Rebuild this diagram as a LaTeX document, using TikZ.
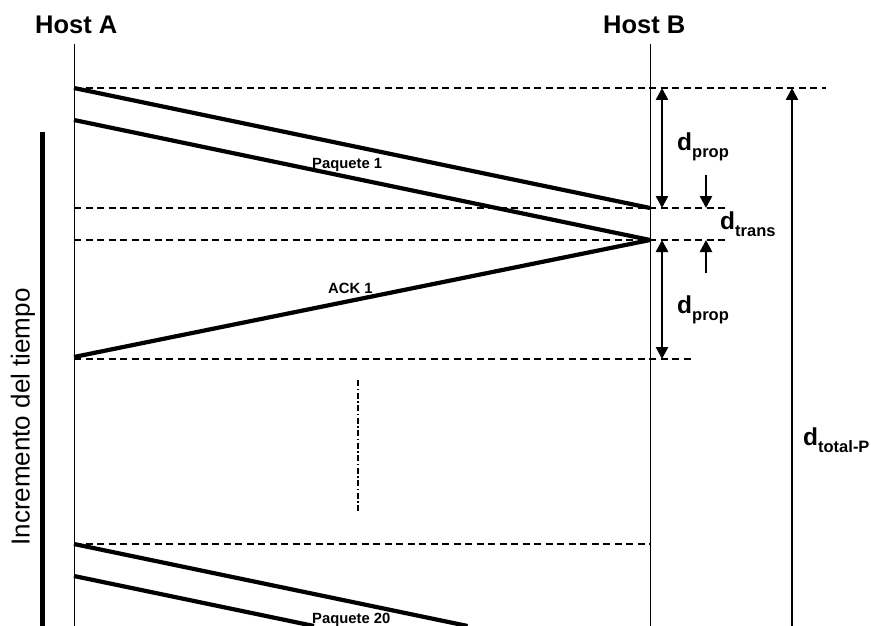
\documentclass[tikz,border=0pt]{standalone}
\usepackage{fontspec}
\setmainfont{Liberation Sans}
\usetikzlibrary{arrows.meta}
\newcommand{\dlabel}[1]{{\fontsize{24.5}{28}\selectfont\bfseries d}\raisebox{-7pt}{\fontsize{16.5}{19}\selectfont\bfseries #1}}
\begin{document}
\begin{tikzpicture}[x=1pt,y=-1pt,
  hostline/.style={line width=1pt},
  msg/.style={line width=4.2pt},
  guide/.style={line width=2pt,dash pattern=on 7pt off 4.5pt},
  dimarrow/.style={line width=2.6pt,{Triangle[length=12pt,width=12pt]}-{Triangle[length=12pt,width=12pt]}},
  ptr/.style={line width=2.6pt,-{Triangle[length=12pt,width=12pt]}},
  hosttxt/.style={font=\fontsize{25.5}{30}\selectfont\bfseries,anchor=base west,inner sep=0pt},
  msgtxt/.style={font=\fontsize{14.8}{18}\selectfont\bfseries,anchor=base west,inner sep=0pt},
  dtxt/.style={anchor=base west,inner sep=0pt}]
\useasboundingbox (0,0) rectangle (871,626);
% host labels
\node[hosttxt] (hostA) at (35,34) {Host A};
\node[hosttxt] (hostB) at (603,34) {Host B};
% host lines
\coordinate (aTop) at (74,44);
\coordinate (aBot) at (74,626);
\coordinate (bTop) at (650,44);
\coordinate (bBot) at (650,626);
\draw[hostline] (aTop) -- (aBot);
\draw[hostline] (bTop) -- (bBot);
% key points
\coordinate (a1) at (74,88);
\coordinate (a2) at (74,120);
\coordinate (a3) at (74,357);
\coordinate (a4) at (74,544);
\coordinate (a5) at (74,576);
\coordinate (b1) at (650,208);
\coordinate (b2) at (650,240);
% dashed guides
\coordinate (g1) at (826,88);
\coordinate (g2a) at (74,208);
\coordinate (g2) at (725,208);
\coordinate (g3a) at (74,240);
\coordinate (g3) at (725,240);
\coordinate (g4a) at (74,359);
\coordinate (g4) at (695,359);
\coordinate (g5) at (650,544);
\draw[guide] (a1) -- (g1);
\draw[guide] (g2a) -- (g2);
\draw[guide] (g3a) -- (g3);
\draw[guide] (g4a) -- (g4);
\draw[guide] (a4) -- (g5);
% messages
\draw[msg] (a1) -- (b1);
\draw[msg] (a2) -- (b2);
\draw[msg] (a3) -- (b2);
\coordinate (e4) at (467.6,626);
\coordinate (e5) at (314,626);
\draw[msg] (a4) -- (e4);
\draw[msg] (a5) -- (e5);
\node[msgtxt] (p1) at (312,168) {Paquete 1};
\node[msgtxt] (ack) at (328,293) {ACK 1};
\node[msgtxt] (p20) at (312,623) {Paquete 20};
% dash-dot continuation
\coordinate (c1) at (358,380);
\coordinate (c2) at (358,513);
\draw[line width=1.8pt,dash pattern=on 6pt off 2.5pt on 1.5pt off 2.5pt] (c1) -- (c2);
% dimensions
\coordinate (d1t) at (662,88);
\coordinate (d1b) at (662,208);
\coordinate (d2t) at (662,240);
\coordinate (d2b) at (662,359);
\draw[dimarrow] (d1t) -- (d1b);
\draw[dimarrow] (d2t) -- (d2b);
\coordinate (s1s) at (706,175);
\coordinate (s1e) at (706,208);
\coordinate (s2s) at (706,273);
\coordinate (s2e) at (706,240);
\draw[ptr] (s1s) -- (s1e);
\draw[ptr] (s2s) -- (s2e);
\coordinate (tb) at (792,626);
\coordinate (tt) at (792,88);
\draw[ptr] (tb) -- (tt);
\node[dtxt] (dprop1) at (677,150) {\dlabel{prop}};
\node[dtxt] (dtrans) at (720,229) {\dlabel{trans}};
\node[dtxt] (dprop2) at (677,313) {\dlabel{prop}};
\node[dtxt] (dtot) at (803,445) {\dlabel{total-P}};
% time axis
\coordinate (tax1) at (42,132);
\coordinate (tax2) at (42,626);
\draw[line width=5pt] (tax1) -- (tax2);
\node[rotate=90,font=\fontsize{26}{30}\selectfont,inner sep=0pt] (time) at (23,417) {Incremento del tiempo};
\end{tikzpicture}
\end{document}
